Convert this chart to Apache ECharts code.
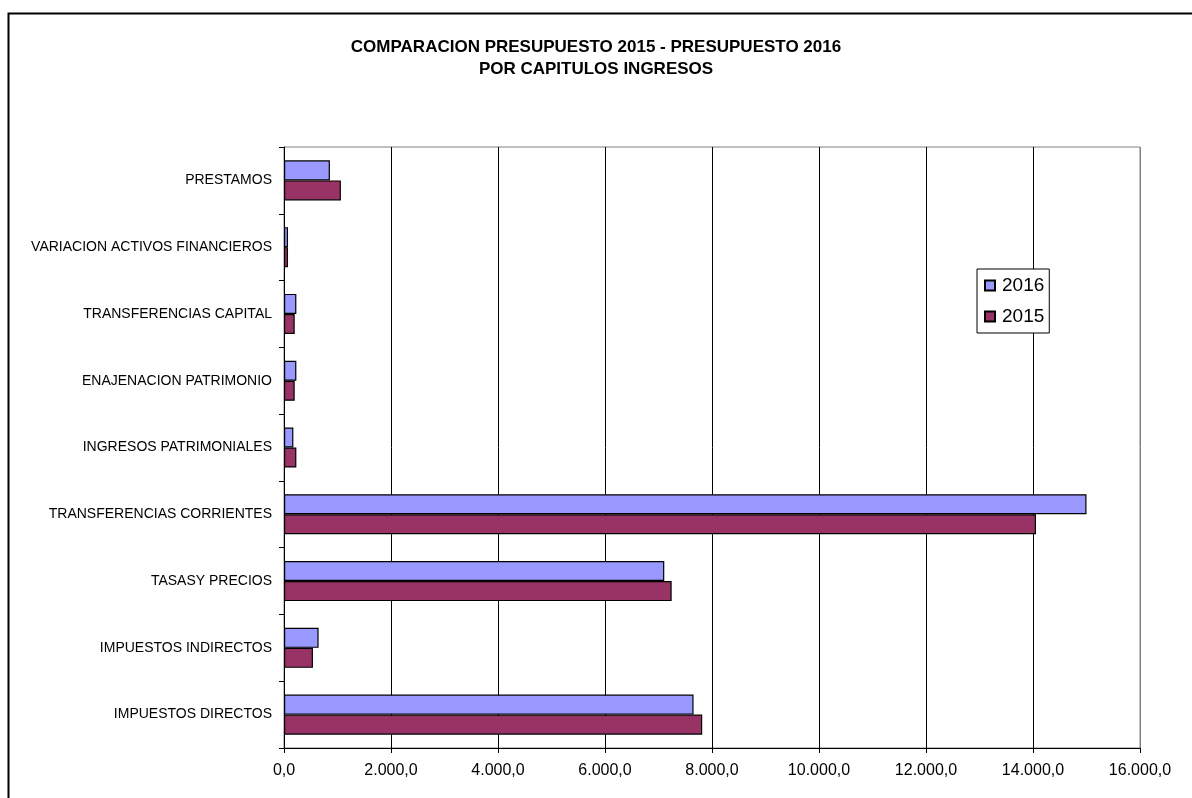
<!DOCTYPE html>
<html>
<head>
<meta charset="utf-8">
<title>Comparación presupuesto 2015 - 2016</title>
<script src="https://cdn.jsdelivr.net/npm/echarts@6/dist/echarts.min.js"></script>
<style>
  html, body { margin: 0; padding: 0; background: #fff; }
  #chart { width: 1192px; height: 798px; }
</style>
</head>
<body>
<div id="chart"></div>
<script>
// Capítulos de ingresos, from bottom to top of the chart
const categories = [
  'IMPUESTOS DIRECTOS',
  'IMPUESTOS INDIRECTOS',
  'TASASY PRECIOS',
  'TRANSFERENCIAS CORRIENTES',
  'INGRESOS PATRIMONIALES',
  'ENAJENACION PATRIMONIO',
  'TRANSFERENCIAS CAPITAL',
  'VARIACION ACTIVOS FINANCIEROS',
  'PRESTAMOS'
];

// Budget amounts per chapter (miles de euros)
const values2016 = [7655, 647, 7108, 15000, 175, 231, 231, 75, 858];
const values2015 = [7817, 541, 7246, 14056, 231, 200, 200, 75, 1063];

// X axis range and step
const axisMin = 0;
const axisMax = 16000;
const axisStep = 2000;

function formatNumber(v) {
  // 16000 -> "16.000,0"
  const intPart = Math.round(v).toString().replace(/\B(?=(\d{3})+(?!\d))/g, '.');
  return intPart + ',0';
}

const chart = echarts.init(document.getElementById('chart'), null, { renderer: 'canvas' });

const FONT = 'Liberation Sans, Arial, sans-serif';

// vertical grid lines black, the last one coincides with the grey plot frame
const gridCount = (axisMax - axisMin) / axisStep + 1;
const splitColors = [];
for (let i = 0; i < gridCount; i++) splitColors.push(i === gridCount - 1 ? '#808080' : '#000000');

chart.setOption({
  backgroundColor: '#ffffff',
  animation: false,
  title: {
    text: 'COMPARACION PRESUPUESTO 2015 - PRESUPUESTO 2016\nPOR CAPITULOS INGRESOS',
    left: 'center',
    top: 31,
    textStyle: {
      fontFamily: FONT,
      fontWeight: 'bold',
      fontSize: 17,
      lineHeight: 22,
      color: '#000'
    }
  },
  legend: {
    data: ['2016', '2015'],
    orient: 'vertical',
    left: 977,
    top: 269,
    itemWidth: 10,
    itemHeight: 10,
    itemGap: 12,
    padding: [7, 5, 7, 7],
    borderColor: '#000',
    borderWidth: 1,
    backgroundColor: '#fff',
    icon: 'rect',
    textStyle: { fontFamily: FONT, fontSize: 19, color: '#000', padding: [0, 0, 0, 2] }
  },
  grid: {
    left: 284,
    right: 52,
    top: 147,
    bottom: 50,
    show: true,
    borderColor: '#808080',
    borderWidth: 1,
    backgroundColor: '#fff',
    containLabel: false
  },
  xAxis: {
    type: 'value',
    min: axisMin,
    max: axisMax,
    interval: axisStep,
    axisLine: { show: true, lineStyle: { color: '#000', width: 1 } },
    axisTick: { show: true, length: 5, lineStyle: { color: '#000' } },
    splitLine: { show: true, lineStyle: { color: splitColors, width: 1 } },
    axisLabel: {
      fontFamily: FONT,
      fontSize: 16,
      color: '#000',
      margin: 15,
      formatter: formatNumber
    }
  },
  yAxis: {
    type: 'category',
    data: categories,
    axisLine: { show: true, lineStyle: { color: '#000', width: 1 } },
    axisTick: { show: true, length: 5, lineStyle: { color: '#000' } },
    splitLine: { show: false },
    axisLabel: {
      fontFamily: FONT,
      fontSize: 14,
      color: '#000',
      margin: 12
    }
  },
  series: [
    {
      name: '2016',
      type: 'bar',
      data: values2016,
      barGap: '0%',
      barCategoryGap: '40%',
      itemStyle: { color: '#9999ff', borderColor: '#000', borderWidth: 1.2 }
    },
    {
      name: '2015',
      type: 'bar',
      data: values2015,
      barGap: '0%',
      barCategoryGap: '40%',
      itemStyle: { color: '#993366', borderColor: '#000', borderWidth: 1.2 }
    }
  ],
  graphic: [
    {
      type: 'rect',
      left: 6,
      top: 11,
      shape: { x: 0, y: 0, width: 1200, height: 800 },
      style: { fill: 'none', stroke: '#000', lineWidth: 2 },
      silent: true,
      z: 100
    }
  ]
});
</script>
</body>
</html>
